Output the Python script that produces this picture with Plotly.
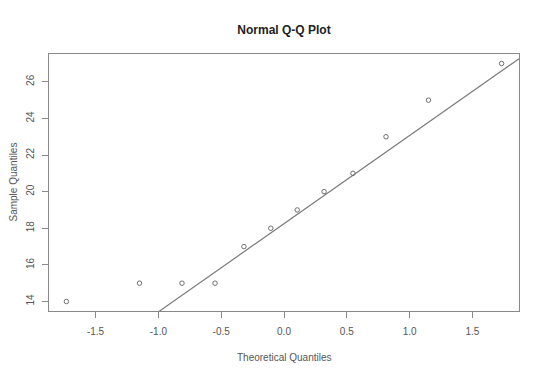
import numpy as np
import plotly.graph_objects as go

# Data (R qqnorm output, n = 12)
theoretical_quantiles = [-1.732, -1.150, -0.812, -0.549, -0.319, -0.105,
                         0.105, 0.319, 0.549, 0.812, 1.150, 1.732]
sample_quantiles = [14, 15, 15, 15, 17, 18, 19, 20, 21, 23, 25, 27]
x_ticks = [-1.5, -1.0, -0.5, 0.0, 0.5, 1.0, 1.5]
x_tick_labels = ["-1.5", "-1.0", "-0.5", "0.0", "0.5", "1.0", "1.5"]
y_ticks = [14, 16, 18, 20, 22, 24, 26]
y_tick_labels = ["14", "16", "18", "20", "22", "24", "26"]

# qqline through the quartiles (as R does)
y_q = np.quantile(sample_quantiles, [0.25, 0.75])
x_q = np.array([-0.6745, 0.6745])
slope = (y_q[1] - y_q[0]) / (x_q[1] - x_q[0])
intercept = y_q[0] - slope * x_q[0]

xr = [min(theoretical_quantiles), max(theoretical_quantiles)]
xpad = 0.04 * (xr[1] - xr[0])
x_range = [xr[0] - xpad, xr[1] + xpad]
yr = [min(sample_quantiles), max(sample_quantiles)]
ypad = 0.04 * (yr[1] - yr[0])
y_range = [yr[0] - ypad, yr[1] + ypad]

line_x = np.array(x_range)
line_y = intercept + slope * line_x

FONT = "Liberation Sans, Arial, sans-serif"

# The page body has an 8px default margin; size the figure to fit inside it.
W, H = 526, 371

fig = go.Figure()
fig.add_trace(go.Scatter(
    x=line_x, y=line_y, mode="lines",
    line=dict(color="#7a7a7a", width=1.2), hoverinfo="skip", showlegend=False,
))
fig.add_trace(go.Scatter(
    x=theoretical_quantiles, y=sample_quantiles, mode="markers",
    marker=dict(symbol="circle-open", size=4.5, color="#707070", line=dict(width=1)),
    showlegend=False, cliponaxis=False,
))

axis_common = dict(
    showgrid=False, zeroline=False, showline=True, mirror=True,
    linecolor="#8a8a8a", linewidth=1.3, ticks="outside", ticklen=6,
    tickcolor="#8a8a8a", tickwidth=1,
    tickfont=dict(family=FONT, size=10, color="#555555"),
)

fig.update_layout(
    width=W, height=H,
    margin=dict(l=41, r=15, t=46, b=68),
    paper_bgcolor="white", plot_bgcolor="white",
    title=dict(text="<b>Normal Q-Q Plot</b>", x=0.5, xref="paper",
               y=1 - 22 / H, yref="container", yanchor="middle",
               font=dict(family=FONT, size=12, color="#222222")),
    xaxis=dict(range=x_range, tickvals=x_ticks, ticktext=x_tick_labels,
               ticklabelstandoff=5, **axis_common),
    yaxis=dict(range=y_range, tickvals=y_ticks, ticktext=y_tick_labels,
               tickangle=-90, ticklabelstandoff=4, **axis_common),
    annotations=[
        dict(text="Theoretical Quantiles", xref="paper", yref="paper",
             x=0.5, y=-46 / 257, xanchor="center", yanchor="middle",
             showarrow=False, font=dict(family=FONT, size=10, color="#555555")),
        dict(text="Sample Quantiles", xref="paper", yref="paper",
             x=-36 / 470, y=0.5, xanchor="center", yanchor="middle",
             textangle=-90, showarrow=False,
             font=dict(family=FONT, size=10, color="#555555")),
    ],
)

fig.write_html("out.html")
